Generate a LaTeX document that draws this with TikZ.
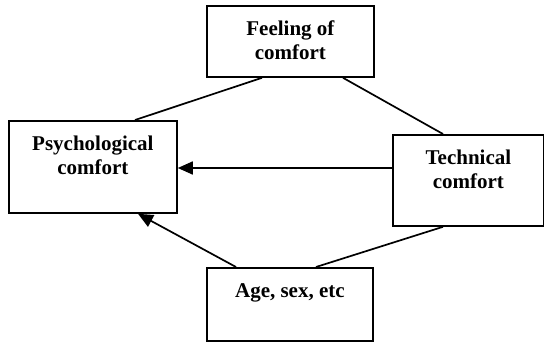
\documentclass[tikz,border=0pt]{standalone}
\usepackage{fontspec}
\setmainfont{Liberation Serif}
\usetikzlibrary{arrows.meta,calc}
\tikzset{
  box/.style={draw, line width=1.8pt, rectangle, anchor=north west, inner sep=0pt},
  lbl/.style={anchor=north, align=center, inner sep=0pt, font=\fontsize{21}{24}\selectfont\bfseries},
  conn/.style={line width=1.7pt},
  arr/.style={line width=1.7pt, -{Triangle[length=15pt, width=13pt]}}
}
\begin{document}
\begin{tikzpicture}[x=1pt, y=-1pt]
\useasboundingbox (0,0) rectangle (544,341);
\node[box, minimum width=167pt, minimum height=71pt] (feel) at (206,5) {};
\node[box, minimum width=168pt, minimum height=92pt] (psy) at (8,120) {};
\node[box, minimum width=151pt, minimum height=91pt] (tech) at (392,134) {};
\node[box, minimum width=166pt, minimum height=73pt] (age) at (206,267) {};
\node[lbl] (feelt) at ([yshift=-16pt]feel.north) {Feeling of\\comfort};
\node[lbl] (psyt) at ([yshift=-16pt]psy.north) {Psychological\\comfort};
\node[lbl] (techt) at ([yshift=-16pt]tech.north) {Technical\\comfort};
\node[lbl] (aget) at ([yshift=-16pt]age.north) {Age, sex, etc};
\draw[conn] ([xshift=56pt]feel.south west) -- ([xshift=127pt]psy.north west);
\draw[conn] ([xshift=137pt]feel.south west) -- ([xshift=51pt]tech.north west);
\draw[arr] ([yshift=-34pt]tech.north west) -- ([yshift=-34pt]tech.north west -| psy.east);
\draw[arr] ([xshift=30pt]age.north west) -- ([xshift=130pt]psy.south west);
\draw[conn] ([xshift=51pt]tech.south west) -- ([xshift=110pt]age.north west);
\end{tikzpicture}
\end{document}
